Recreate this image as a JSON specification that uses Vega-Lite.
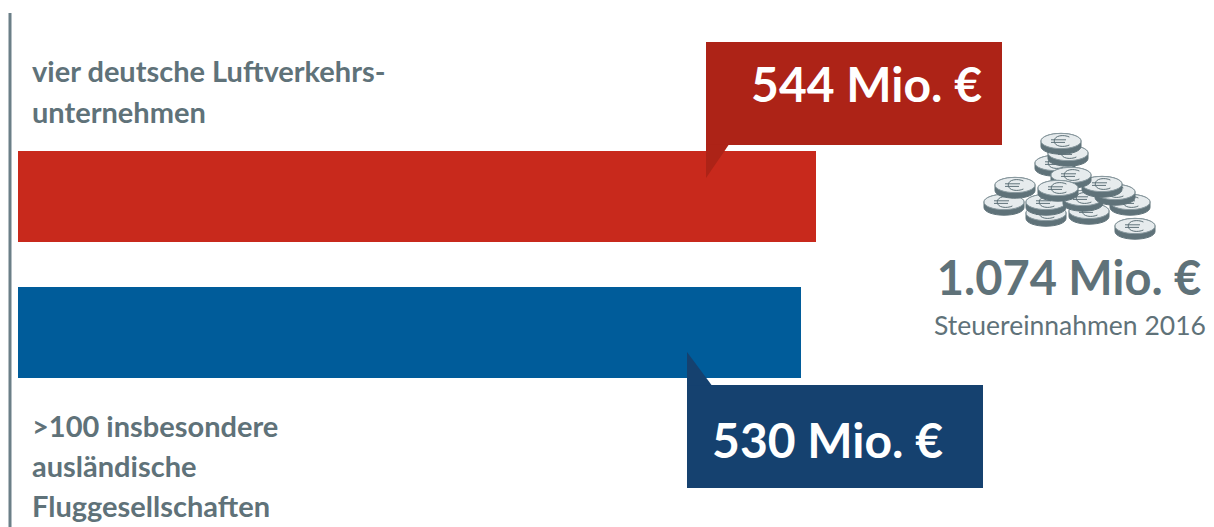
{
  "$schema": "https://vega.github.io/schema/vega-lite/v6.json",
  "width": 1214,
  "height": 527,
  "padding": 0,
  "autosize": {"type": "fit", "contains": "padding"},
  "background": "white",
  "config": {"view": {"stroke": null}},
  "datasets": {
    "steuern": [
      {"gruppe": "vier deutsche Luftverkehrs-\nunternehmen", "wert": 544, "text": "544 Mio. €"},
      {"gruppe": ">100 insbesondere\nausländische\nFluggesellschaften", "wert": 530, "text": "530 Mio. €"}
    ],
    "muenzen": [
      {"px": 19, "py": 72}, {"px": 30, "py": 55}, {"px": 61, "py": 83}, {"px": 61, "py": 72},
      {"px": 104, "py": 81}, {"px": 98, "py": 68}, {"px": 145, "py": 72}, {"px": 130, "py": 62},
      {"px": 117, "py": 54}, {"px": 70, "py": 33}, {"px": 83, "py": 23}, {"px": 76, "py": 11},
      {"px": 86, "py": 45}, {"px": 73, "py": 58}, {"px": 150, "py": 96}
    ],
    "summe": [{"summe": "1.074 Mio. €", "zusatz": "Steuereinnahmen 2016"}]
  },
  "layer": [
    {
      "data": {"name": "steuern"},
      "encoding": {
        "x": {"field": "wert", "type": "quantitative", "axis": null,
              "scale": {"type": "pow", "exponent": 0.728, "domain": [0, 544], "range": [18, 816]}},
        "y": {"field": "gruppe", "type": "nominal", "axis": null,
              "scale": {"type": "band",
                        "domain": ["vier deutsche Luftverkehrs-\nunternehmen", ">100 insbesondere\nausländische\nFluggesellschaften"],
                        "range": [151, 378], "paddingInner": 0.331, "paddingOuter": 0}}
      },
      "layer": [
        {
          "mark": {"type": "bar"},
          "encoding": {
            "color": {"field": "gruppe", "type": "nominal", "legend": null,
                      "scale": {"domain": ["vier deutsche Luftverkehrs-\nunternehmen", ">100 insbesondere\nausländische\nFluggesellschaften"],
                                "range": ["#c8291c", "#005c9a"]}}
          }
        },
        {
          "transform": [{"filter": "datum.wert === 544"}],
          "layer": [
            {"mark": {"type": "rect", "color": "#ad2317", "height": 103, "xOffset": -110, "x2Offset": 186, "yOffset": -103},
             "encoding": {"x2": {"field": "wert"}}},
            {"mark": {"type": "point", "filled": true, "opacity": 1, "color": "#ad2317", "strokeWidth": 0, "size": 4356,
                      "shape": "M0,-0.02 L0.7,-0.02 L0,1 Z", "xOffset": -110, "yOffset": -51.5}},
            {"mark": {"type": "text", "font": "Lato", "fontWeight": "bold", "fontSize": 48, "color": "white",
                      "align": "right", "baseline": "alphabetic", "dx": 166, "dy": -94},
             "encoding": {"text": {"field": "text"}}},
            {"mark": {"type": "text", "font": "Lato", "fontWeight": "bold", "fontSize": 29, "color": "#5f7279",
                      "align": "left", "baseline": "alphabetic", "lineBreak": "\n", "lineHeight": 41, "dx": 14, "dy": -114.5},
             "encoding": {"x": {"datum": 0}, "text": {"field": "gruppe"}}}
          ]
        },
        {
          "transform": [{"filter": "datum.wert === 530"}],
          "layer": [
            {"mark": {"type": "rect", "color": "#15416f", "height": 103, "xOffset": -114, "x2Offset": 182, "yOffset": 104},
             "encoding": {"x2": {"field": "wert"}}},
            {"mark": {"type": "point", "filled": true, "opacity": 1, "color": "#15416f", "strokeWidth": 0, "size": 4356,
                      "shape": "M0,0.02 L0.76,0.02 L0,-1 Z", "xOffset": -114, "yOffset": 52.5}},
            {"mark": {"type": "text", "font": "Lato", "fontWeight": "bold", "fontSize": 48, "color": "white",
                      "align": "right", "baseline": "alphabetic", "dx": 142, "dy": 125},
             "encoding": {"text": {"field": "text"}}},
            {"mark": {"type": "text", "font": "Lato", "fontWeight": "bold", "fontSize": 29, "color": "#5f7279",
                      "align": "left", "baseline": "alphabetic", "lineBreak": "\n", "lineHeight": 40, "dx": 14, "dy": 104},
             "encoding": {"x": {"datum": 0}, "text": {"field": "gruppe"}}}
          ]
        }
      ]
    },
    {
      "encoding": {
        "x": {"type": "quantitative", "axis": null,
              "scale": {"domain": [0, 170], "range": [985, 1155], "zero": false, "nice": false}},
        "y": {"type": "quantitative", "axis": null,
              "scale": {"domain": [0, 110], "range": [130, 240], "zero": false, "nice": false}}
      },
      "layer": [
        {
          "data": {"name": "muenzen"},
          "transform": [{"calculate": "['rand', 'flaeche', 'euro']", "as": "teil"}, {"flatten": ["teil"]}],
          "mark": {"type": "point", "filled": true, "opacity": 1, "size": 1600, "strokeWidth": 1},
          "encoding": {
            "x": {"field": "px", "type": "quantitative"},
            "y": {"field": "py", "type": "quantitative"},
            "shape": {"field": "teil", "type": "nominal", "legend": null,
                      "scale": {"domain": ["rand", "flaeche", "euro"],
                                "range": [
                                  "M-1,0 L-1,0.28 A1,0.38 0 0 0 1,0.28 L1,0 A1,0.38 0 0 0 -1,0 Z",
                                  "M-1,0 A1,0.38 0 0 1 1,0 A1,0.38 0 0 1 -1,0 Z",
                                  "M0.42,-0.2 C0.15,-0.33 -0.34,-0.29 -0.34,0 C-0.34,0.29 0.15,0.33 0.42,0.2 M-0.5,-0.06 L0.25,-0.06 M-0.5,0.07 L0.2,0.07"
                                ]}},
            "fill": {"field": "teil", "type": "nominal", "legend": null,
                     "scale": {"domain": ["rand", "flaeche", "euro"], "range": ["#5f7279", "#e6ebed", "transparent"]}},
            "stroke": {"field": "teil", "type": "nominal", "legend": null,
                       "scale": {"domain": ["rand", "flaeche", "euro"], "range": ["#5f7279", "#8a9aa0", "#5f7279"]}}
          }
        },
        {
          "data": {"name": "summe"},
          "layer": [
            {"mark": {"type": "text", "font": "Lato", "fontWeight": "bold", "fontSize": 47, "color": "#5f7279",
                      "align": "center", "baseline": "alphabetic"},
             "encoding": {"x": {"datum": 84}, "y": {"datum": 165}, "text": {"field": "summe"}}},
            {"mark": {"type": "text", "font": "Lato", "fontSize": 26.5, "color": "#5f7279",
                      "align": "center", "baseline": "alphabetic"},
             "encoding": {"x": {"datum": 85}, "y": {"datum": 205}, "text": {"field": "zusatz"}}}
          ]
        },
        {
          "data": {"values": [{"linie": "Trennlinie"}]},
          "mark": {"type": "rule", "color": "#6b7f87", "strokeWidth": 3},
          "encoding": {"x": {"datum": -975}, "y": {"datum": -117}, "y2": {"datum": 397}}
        }
      ]
    }
  ],
  "resolve": {"scale": {"x": "independent", "y": "independent", "color": "independent"}}
}
